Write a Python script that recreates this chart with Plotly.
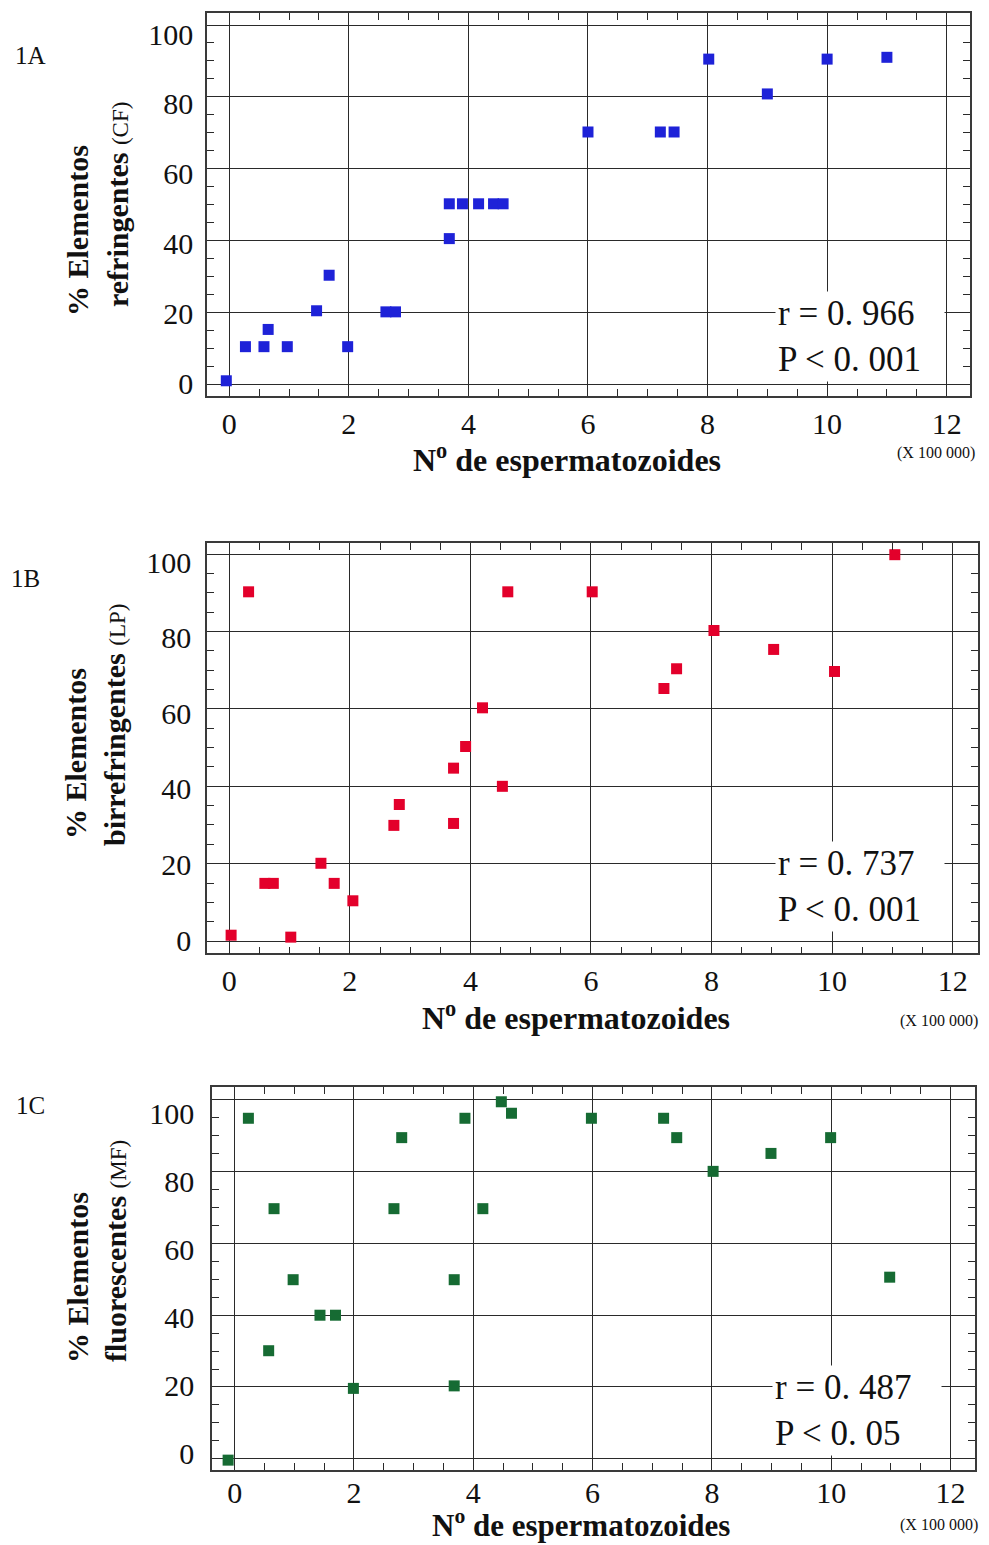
import plotly.graph_objects as go

# ---------------- data ----------------
x_ticks = [0, 2, 4, 6, 8, 10, 12]
y_ticks = [0, 20, 40, 60, 80, 100]

a_x = [-0.05, 0.27, 0.58, 0.65, 0.97, 1.46, 1.67, 1.98, 2.62, 2.78, 3.68, 3.68,
       3.90, 4.17, 4.42, 4.58, 6.00, 7.21, 7.44, 8.02, 9.00, 10.00, 11.00]
a_y = [0.9, 10.4, 10.4, 15.2, 10.4, 20.4, 30.3, 10.4, 20.1, 20.1, 40.5, 50.2,
       50.2, 50.2, 50.2, 50.2, 70.2, 70.2, 70.2, 90.5, 80.8, 90.5, 91.0]

b_x = [0.03, 0.32, 0.59, 0.73, 1.02, 1.52, 1.74, 2.05, 2.73, 2.82, 3.72, 3.72,
       3.92, 4.20, 4.53, 4.62, 6.02, 7.21, 7.42, 8.04, 9.03, 10.04, 11.04]
b_y = [1.5, 90.3, 14.9, 14.9, 1.0, 20.1, 14.9, 10.4, 29.9, 35.3, 44.7, 30.4,
       50.3, 60.3, 40.0, 90.3, 90.3, 65.3, 70.4, 80.3, 75.4, 69.7, 99.9]

c_x = [-0.11, 0.23, 0.57, 0.66, 0.98, 1.43, 1.69, 1.99, 2.67, 2.80, 3.68, 3.68,
       3.86, 4.16, 4.47, 4.64, 5.98, 7.19, 7.41, 8.02, 8.99, 9.99, 10.98]
c_y = [-0.4, 94.9, 30.1, 69.7, 49.9, 40.0, 40.0, 19.6, 69.7, 89.5, 49.9, 20.3,
       94.9, 69.7, 99.5, 96.3, 94.9, 94.9, 89.5, 80.1, 85.1, 89.5, 50.6]

panel_labels = ["1A", "1B", "1C"]
y_line1 = "% Elementos"
y_line2 = ["refringentes", "birrefringentes", "fluorescentes"]
y_suffix = ["(CF)", "(LP)", "(MF)"]
stats = [("r = 0. 966", "P &lt; 0. 001"),
         ("r = 0. 737", "P &lt; 0. 001"),
         ("r = 0. 487", "P &lt; 0. 05")]
x_title = "N<sup>o</sup> de espermatozoides"
x_unit = "(X 100 000)"
colors = ["#1e22d8", "#e3002b", "#166b33"]

# ---------------- layout helpers ----------------
W, H = 989, 1545
FONT = "Liberation Serif"


def px(x):
    return x / W


def py(y):
    return 1 - y / H


# frames in pixels: left, right, top, bottom ; ranges
frames = [(207.3, 970.0, 13.3, 396.0), (207.3, 978.0, 542.7, 953.3), (212.3, 975.0, 1086.7, 1470.0)]
xranges = [[-0.368, 12.39], [-0.365, 12.42], [-0.375, 12.41]]
yranges = [[-3.34, 103.26], [-3.18, 103.0], [-3.15, 103.7]]
x_standoff = [0, 0, -5]
# pixel rows where the printed y tick labels sit (value 0 and value 100)
ylab_rows = [(383.0, 34.0), (940.0, 562.0), (1453.0, 1113.0)]
ylab_right = [190, 188, 191]

fig = go.Figure()
data = [(a_x, a_y), (b_x, b_y), (c_x, c_y)]
for i, (xs, ys) in enumerate(data):
    sfx = "" if i == 0 else str(i + 1)
    fig.add_trace(go.Scatter(
        x=xs, y=ys, mode="markers",
        marker=dict(symbol="square", size=11, color=colors[i], line=dict(width=0)),
        xaxis="x" + sfx, yaxis="y" + sfx, showlegend=False, cliponaxis=False))

axis_common = dict(
    showline=True, linecolor="#3a3a3a", linewidth=1.6, mirror="allticks",
    showgrid=True, gridcolor="#2a2a2a", gridwidth=1.3, zeroline=False,
    ticks="inside", ticklen=4, tickcolor="#2a2a2a", tickwidth=1,
    tickfont=dict(family=FONT, size=30, color="#111111"),
    automargin=False,
)

layout = dict(
    width=W, height=H, margin=dict(l=0, r=0, t=0, b=0, autoexpand=False),
    paper_bgcolor="white", plot_bgcolor="white", showlegend=False,
)

annotations = []
xt_centers = [(567, 458), (576, 1016), (581, 1523)]
xt_sizes = [32, 32, 31]
xu_centers = [(936, 453), (939, 1021), (939, 1525)]
lbl_centers = [(30, 55), (25, 578), (30, 1105)]
yl1_centers = [(77, 231), (75, 754), (77, 1278)]
yl2_centers = [(118, 205), (114, 725), (115, 1251)]
stat_boxes = [(775, 291), (775, 841), (772, 1365)]


def centered(text, cx, cy, size, angle=0):
    return dict(text=text, x=px(cx), y=py(cy), xref="paper", yref="paper",
                xanchor="center", yanchor="middle", showarrow=False, textangle=angle,
                font=dict(family=FONT, size=size, color="#111"))


for i in range(3):
    sfx = "" if i == 0 else str(i + 1)
    lab = str(i + 4)
    l, r, t, b = frames[i]
    xa = dict(axis_common)
    xa.update(domain=[px(l), px(r)], range=xranges[i], tickvals=x_ticks,
              anchor="y" + sfx, ticklabelstandoff=x_standoff[i],
              minor=dict(ticks="inside", ticklen=7, dtick=0.5, tickcolor="#2a2a2a",
                         tickwidth=1.2, showgrid=False))
    ya = dict(axis_common)
    ya.update(domain=[py(b), py(t)], range=yranges[i], tickvals=y_ticks,
              anchor="x" + sfx, showticklabels=False,
              minor=dict(ticks="inside", ticklen=7, dtick=5, tickcolor="#2a2a2a",
                         tickwidth=1.2, showgrid=False))
    layout["xaxis" + sfx] = xa
    layout["yaxis" + sfx] = ya

    # label-only y axis, calibrated to where the printed labels sit
    p0, p100 = ylab_rows[i]
    s = (p0 - p100) / 100.0
    lab_range = [(p0 - b) / s, (p0 - t) / s]
    layout["yaxis" + lab] = dict(
        domain=[py(b), py(t)], range=lab_range, tickvals=y_ticks,
        overlaying="y" + sfx, anchor="free", position=px(l), side="left",
        showgrid=False, showline=False, zeroline=False, ticks="",
        ticklabelstandoff=int(round(l - ylab_right[i])) - 3,
        tickfont=dict(family=FONT, size=30, color="#111111"), automargin=False)
    fig.add_trace(go.Scatter(x=[None], y=[None], mode="markers", xaxis="x" + sfx,
                             yaxis="y" + lab, showlegend=False, hoverinfo="skip"))

    annotations.append(centered(panel_labels[i], *lbl_centers[i], 25))
    annotations.append(centered("<b>" + y_line1 + "</b>", *yl1_centers[i], 30, -90))
    annotations.append(centered("<b>" + y_line2[i] + "</b> <span style='font-size:23px'>"
                                + y_suffix[i] + "</span>", *yl2_centers[i], 30, -90))
    annotations.append(centered("<b>" + x_title + "</b>", *xt_centers[i], xt_sizes[i]))
    annotations.append(centered(x_unit, *xu_centers[i], 16))
    annotations.append(dict(text=stats[i][0] + "<br>" + stats[i][1],
                            x=px(stat_boxes[i][0]), y=py(stat_boxes[i][1]),
                            xref="paper", yref="paper", xanchor="left", yanchor="top",
                            showarrow=False, align="left", bgcolor="white", borderpad=2,
                            width=164,
                            font=dict(family=FONT, size=35, color="#111")))

layout["annotations"] = annotations
fig.update_layout(**layout)
fig.write_html("out.html", config={"displayModeBar": False},
               post_script="document.body.style.margin='0px';document.body.style.overflow='hidden';")
